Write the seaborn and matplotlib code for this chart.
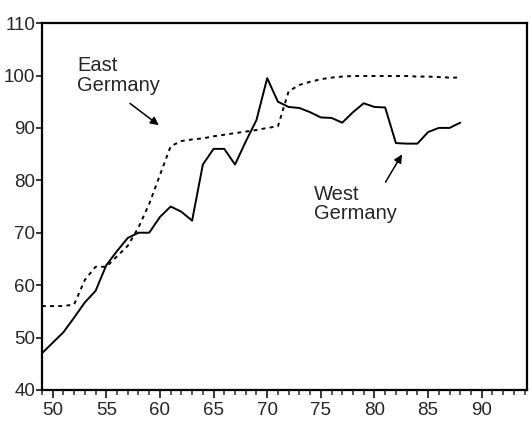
import matplotlib
matplotlib.use("Agg")
import matplotlib.pyplot as plt
import seaborn as sns
import pandas as pd
from matplotlib.ticker import MultipleLocator

years = list(range(49, 89))
west = [47, 49, 51, 53.8, 56.7, 58.9, 63.8, 66.5, 69, 70,
        70, 73, 75, 74, 72.3, 83, 86, 86, 83, 87.4,
        91.5, 99.5, 95, 94, 93.8, 93, 92, 91.9, 91, 93,
        94.7, 94, 93.9, 87.1, 87, 87, 89.2, 90, 90, 91]
east = [56, 56, 56, 56.3, 61, 63.5, 63.5, 65.5, 67.5, 71,
        75.5, 81, 86.5, 87.5, 87.8, 88, 88.4, 88.7, 89, 89.3,
        89.6, 90, 90.3, 97, 98.2, 98.8, 99.3, 99.6, 99.8, 99.9,
        99.9, 99.9, 99.9, 99.9, 99.9, 99.8, 99.8, 99.7, 99.6, 99.6]

df = pd.DataFrame({"year": years, "West Germany": west, "East Germany": east})

sns.set_style("ticks")
plt.rcParams["font.family"] = ["Liberation Sans", "DejaVu Sans"]

fig = plt.figure(figsize=(5.31, 4.28), dpi=100)
ax = fig.add_axes([0.079, 0.089, 0.913, 0.857])

sns.lineplot(data=df, x="year", y="West Germany", ax=ax, color="black", linewidth=1.4)
sns.lineplot(data=df, x="year", y="East Germany", ax=ax, color="black", linewidth=1.4,
             linestyle=(0, (2, 2.2)))

ax.set_xlim(49, 94.2)
ax.set_ylim(40, 110)
ax.xaxis.set_major_locator(MultipleLocator(5))
ax.xaxis.set_minor_locator(MultipleLocator(1))
ax.yaxis.set_major_locator(MultipleLocator(10))
ax.set_xticks(range(50, 95, 5))
ax.tick_params(axis="x", which="major", length=6, width=1.3, labelsize=13.5, pad=3, direction="out")
ax.tick_params(axis="x", which="minor", length=3.5, width=1.1, direction="out")
ax.tick_params(axis="y", which="major", length=4, width=1.3, labelsize=13.5, pad=1, direction="out")
ax.set_xlabel("")
ax.set_ylabel("")
for s in ax.spines.values():
    s.set_visible(True)
    s.set_linewidth(1.6)
    s.set_color("black")

ax.text(52.3, 100, "East\nGermany", fontsize=14.5, ha="left", va="center", linespacing=1.05)
ax.annotate("", xy=(60.1, 90.2), xytext=(57, 95),
            arrowprops=dict(arrowstyle="-|>", color="black", lw=1.1, mutation_scale=12))
ax.text(74.4, 75.5, "West\nGermany", fontsize=14.5, ha="left", va="center", linespacing=1.05)
ax.annotate("", xy=(82.7, 85.4), xytext=(80.9, 79.2),
            arrowprops=dict(arrowstyle="-|>", color="black", lw=1.1, mutation_scale=12))

fig.savefig("out.png", dpi=100)
